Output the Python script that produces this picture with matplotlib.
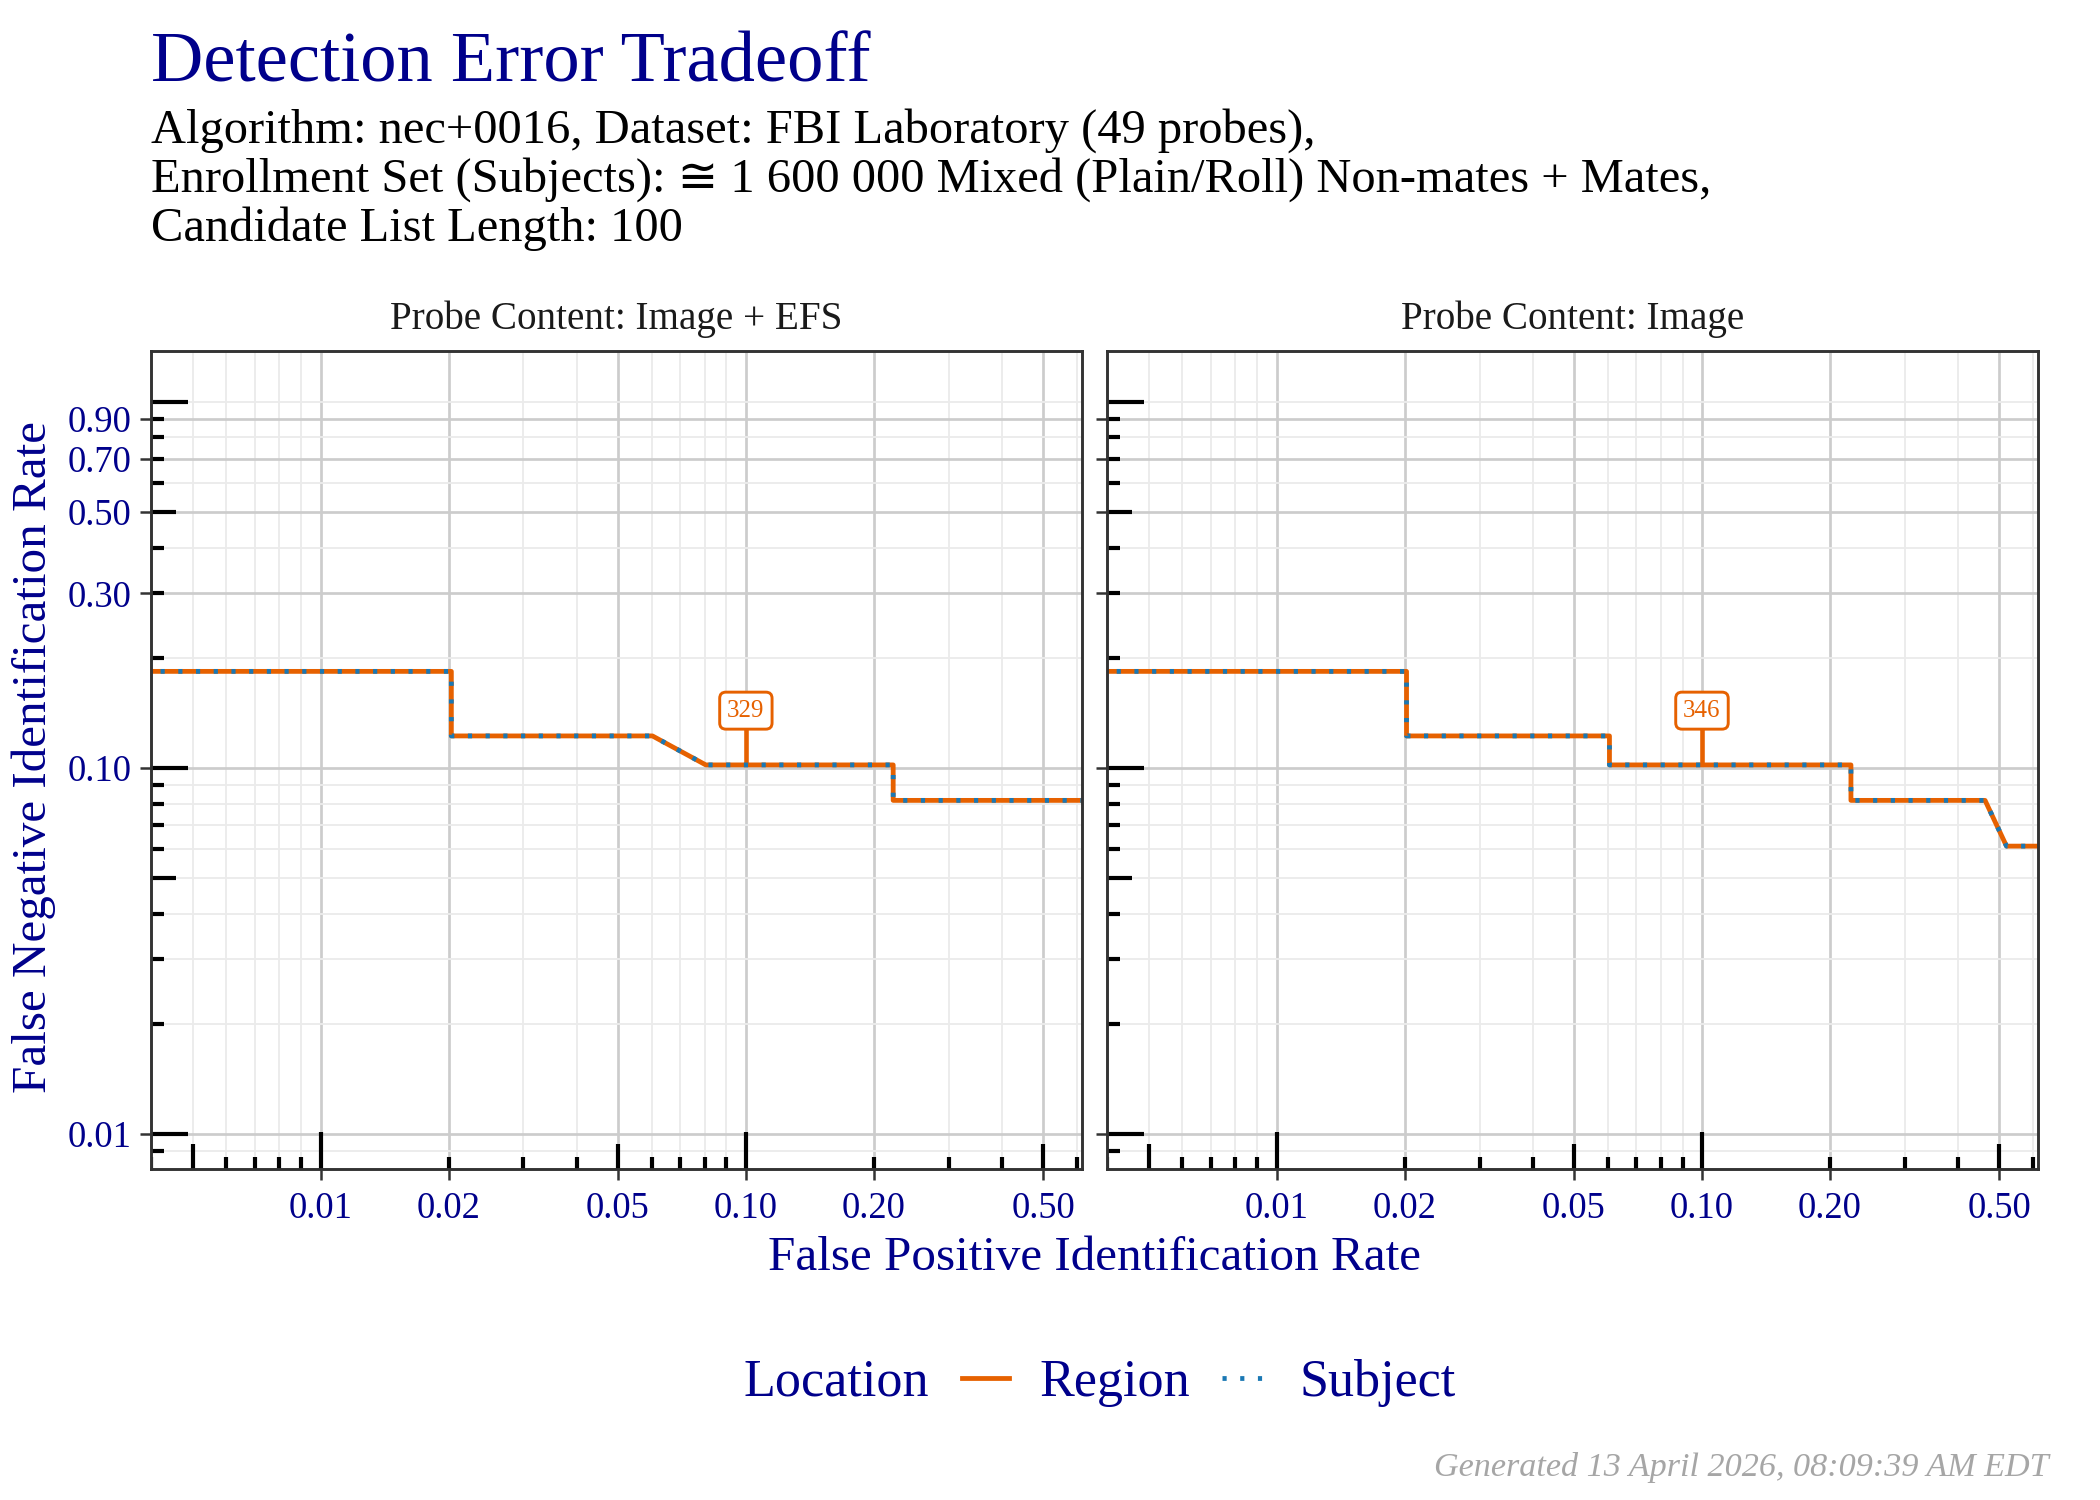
import numpy as np
import matplotlib
matplotlib.use("Agg")
import matplotlib.pyplot as plt
from matplotlib.lines import Line2D
import matplotlib.transforms as mtransforms

plt.rcParams["font.family"] = ["Liberation Serif", "DejaVu Serif", "DejaVu Sans"]
plt.rcParams["lines.scale_dashes"] = False

# ---- data -------------------------------------------------------------
panels = ["Probe Content: Image + EFS", "Probe Content: Image"]

# Image + EFS
fpir_efs = [0.0039, 0.0039, 0.0203, 0.0203, 0.0603, 0.0805, 0.222, 0.222, 0.65]
fnir_efs = [1.0, 0.1837, 0.1837, 0.1224, 0.1224, 0.1020, 0.1020, 0.0816, 0.0816]

# Image only
fpir_img = [0.0039, 0.0039, 0.0202, 0.0202, 0.0606, 0.0606, 0.224, 0.224, 0.463, 0.520, 0.65]
fnir_img = [1.0, 0.1837, 0.1837, 0.1224, 0.1224, 0.1020, 0.1020, 0.0816, 0.0816, 0.0612, 0.0612]

# threshold annotation at FPIR = 0.10
thr_fpir = [0.10, 0.10]
thr_fnir = [0.1020, 0.1020]
thr_label = ["329", "346"]

x_ticks = [0.01, 0.02, 0.05, 0.10, 0.20, 0.50]
x_ticklabels = ["0.01", "0.02", "0.05", "0.10", "0.20", "0.50"]
y_ticks = [0.01, 0.10, 0.30, 0.50, 0.70, 0.90]
y_ticklabels = ["0.01", "0.10", "0.30", "0.50", "0.70", "0.90"]

series_fpir = [fpir_efs, fpir_img]
series_fnir = [fnir_efs, fnir_img]

# ---- styling ----------------------------------------------------------
NAVY = "#00008B"
ORANGE = "#E66100"
BLUE = "#1A78B4"
MAJOR_GRID = "#CCCCCC"
MINOR_GRID = "#EBEBEB"
BORDER = "#333333"

XLIM = (0.00400, 0.617)
YLIM = (0.00803, 1.38)

fig = plt.figure(figsize=(7, 5), dpi=300)
W, H = 2100.0, 1500.0

ax_left = [151.3 / W, 1107.4 / W]
ax_w = 930.7 / W
ax_b = 1 - 1169.0 / H
ax_h = (1169.0 - 350.8) / H


def log_positions(lo, hi):
    vals = []
    for e in range(-4, 1):
        for m in range(1, 10):
            v = m * 10.0 ** e
            if lo <= v <= hi:
                vals.append(v)
    return vals


def logtick_len(v):
    m = round(v / 10 ** np.floor(np.log10(v) + 1e-9))
    if m == 1:
        return 3
    if m == 5:
        return 2
    return 1


axes = []
for i, name in enumerate(panels):
    ax = fig.add_axes([ax_left[i], ax_b, ax_w, ax_h])
    axes.append(ax)
    ax.set_xscale("log")
    ax.set_yscale("log")
    ax.set_xlim(*XLIM)
    ax.set_ylim(*YLIM)

    # grid
    xs_all = log_positions(*XLIM)
    ys_all = log_positions(*YLIM)
    for v in xs_all:
        major = any(abs(v - t) / t < 1e-6 for t in x_ticks)
        ax.axvline(v, color=MAJOR_GRID if major else MINOR_GRID,
                   lw=0.65 if major else 0.45, zorder=0)
    for v in ys_all:
        major = any(abs(v - t) / t < 1e-6 for t in y_ticks)
        ax.axhline(v, color=MAJOR_GRID if major else MINOR_GRID,
                   lw=0.65 if major else 0.45, zorder=0)

    # log ticks drawn inside the panel
    tx = mtransforms.blended_transform_factory(ax.transData, ax.transAxes)
    ty = mtransforms.blended_transform_factory(ax.transAxes, ax.transData)
    unit_x = 12.3 / (ax_h * H)
    unit_y = 12.3 / (ax_w * W)
    for v in xs_all:
        ax.plot([v, v], [0, unit_x * logtick_len(v)], transform=tx,
                color="black", lw=1.0, solid_capstyle="butt", zorder=3)
    for v in ys_all:
        ax.plot([0, unit_y * logtick_len(v)], [v, v], transform=ty,
                color="black", lw=1.0, solid_capstyle="butt", zorder=3)

    # curves: Region (solid) with Subject (dotted) on top
    ax.plot(series_fpir[i], series_fnir[i], color=ORANGE, lw=1.15,
            solid_joinstyle="round", solid_capstyle="round", zorder=4)
    ax.plot(series_fpir[i], series_fnir[i], color=BLUE, lw=1.15,
            linestyle=(0, (1.0, 3.25)), zorder=5)

    # threshold label
    ax.plot([thr_fpir[i], thr_fpir[i]], [thr_fnir[i], 0.130], color=ORANGE,
            lw=1.1, zorder=4, solid_capstyle="butt")
    ax.text(thr_fpir[i], 0.1435, thr_label[i], color=ORANGE, fontsize=6,
            ha="center", va="center", zorder=6,
            bbox=dict(boxstyle="round,pad=0.3,rounding_size=0.25",
                      fc="white", ec=ORANGE, lw=0.7))

    # ticks and labels
    ax.xaxis.set_minor_locator(matplotlib.ticker.NullLocator())
    ax.yaxis.set_minor_locator(matplotlib.ticker.NullLocator())
    ax.set_xticks(x_ticks)
    ax.set_xticklabels(x_ticklabels)
    ax.set_yticks(y_ticks)
    if i == 0:
        ax.set_yticklabels(y_ticklabels)
    else:
        ax.set_yticklabels([])
    ax.tick_params(axis="both", which="major", length=2.75, width=0.6,
                   color=BORDER, labelsize=8.8, labelcolor=NAVY)
    ax.tick_params(axis="x", pad=2.6)
    ax.tick_params(axis="y", pad=2.0)
    for s in ax.spines.values():
        s.set_color(BORDER)
        s.set_linewidth(0.7)
        s.set_zorder(7)

    ax.set_title(name, fontsize=9.4, color="#1A1A1A", pad=5.2)

# titles
fig.text(151 / W, 1 - 82 / H, "Detection Error Tradeoff", fontsize=17.4,
         color=NAVY, va="baseline", ha="left")
sub_lines = [
    "Algorithm: nec+0016, Dataset: FBI Laboratory (49 probes),",
    "Enrollment Set (Subjects): \u2245 1 600 000 Mixed (Plain/Roll) Non-mates + Mates,",
    "Candidate List Length: 100",
]
for k, line in enumerate(sub_lines):
    fig.text(151 / W, 1 - (143 + 49 * k) / H, line, fontsize=11.65,
             color="black", va="baseline", ha="left",
             family=["Liberation Serif", "DejaVu Sans"])

# axis titles
fig.text(1094.5 / W, 1 - 1258 / H, "False Positive Identification Rate",
         fontsize=11.8, color=NAVY, ha="center", va="center")
fig.text(34 / W, 1 - 757 / H, "False Negative Identification Rate",
         fontsize=11.8, color=NAVY, ha="center", va="center", rotation=90)

# legend
leg_y = 1 - 1383 / H
fig.text(743.6 / W, leg_y, "Location", fontsize=12.5, color=NAVY,
         ha="left", va="center")
handles = [
    Line2D([], [], color=ORANGE, lw=1.15),
    Line2D([], [], color=BLUE, lw=1.15, linestyle=(0, (1.0, 3.25))),
]
leg = fig.legend(handles, ["Region", "Subject"], ncol=2, frameon=False,
                 loc="center left", bbox_to_anchor=(961.5 / W, leg_y),
                 borderpad=0, borderaxespad=0, handlelength=0.92,
                 handletextpad=0.58, columnspacing=0.6, fontsize=12.5)
for t in leg.get_texts():
    t.set_color(NAVY)

# footer
fig.text(2049 / W, 1 - 1476 / H, "Generated 13 April 2026, 08:09:39 AM EDT",
         fontsize=8.2, style="italic", color="#A6A6A6", ha="right",
         va="baseline")

fig.savefig("out.png", dpi=300, facecolor="white")
